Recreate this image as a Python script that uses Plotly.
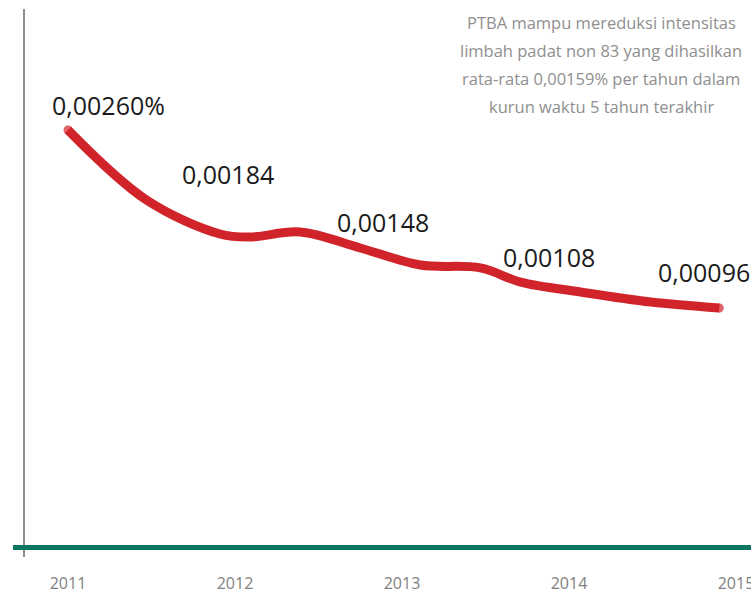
import plotly.graph_objects as go

# Data
years = [2011, 2012, 2013, 2014, 2015]
values = [0.00260, 0.00184, 0.00148, 0.00108, 0.00096]
label_texts = ["0,00260%", "0,00184", "0,00148", "0,00108", "0,00096"]
tick_labels = ["2011", "2012", "2013", "2014", "2015"]

# Smooth decorative curve
curve_x = [2011.0, 2011.47, 2011.91, 2012.09, 2012.39, 2012.75,
           2013.11, 2013.47, 2013.71, 2014.07, 2014.49, 2014.90]
curve_y = [0.002600, 0.001955, 0.001642, 0.001614, 0.001660, 0.001513,
           0.001356, 0.001329, 0.001199, 0.001107, 0.001015, 0.000960]

note_lines = [
    "PTBA mampu mereduksi intensitas",
    "limbah padat non 83 yang dihasilkan",
    "rata-rata 0,00159% per tahun dalam",
    "kurun waktu 5 tahun terakhir",
]

# Label offsets (pixels) relative to each data value
label_dx = [41, -7, -19, -20, -32]
label_dy = [25, 38, 30, 38, 36]

PLOT_H = 545
PLOT_W = 738

fig = go.Figure()
# round end caps: circles only at the two ends of the curve
cap_sizes = [9] + [0] * (len(curve_x) - 2) + [9]
fig.add_trace(go.Scatter(
    x=curve_x, y=curve_y, mode="lines+markers",
    line=dict(color="#d1232a", width=9, shape="spline", smoothing=1.0),
    marker=dict(color="#d1232a", size=cap_sizes, line=dict(width=0)),
    hoverinfo="skip", showlegend=False,
))

annotations = []
for yr, v, t, dx, dy in zip(years, values, label_texts, label_dx, label_dy):
    annotations.append(dict(
        x=yr, y=v, xref="x", yref="y", text=t, showarrow=False,
        xshift=dx, yshift=dy, xanchor="center", yanchor="middle",
        font=dict(family="Open Sans", size=25, color="#1a1a1a"),
    ))

for i, line in enumerate(note_lines):
    annotations.append(dict(
        x=(601 - 13) / PLOT_W, y=1 - (22 + 28 * i) / PLOT_H, xref="paper", yref="paper",
        text=line, showarrow=False, xanchor="center", yanchor="middle",
        font=dict(family="Open Sans", size=16.5, color="#8f8f8f"),
    ))

fig.update_layout(
    width=751, height=595,
    margin=dict(l=13, r=0, t=0, b=595 - PLOT_H),
    paper_bgcolor="white", plot_bgcolor="white",
    annotations=annotations,
    shapes=[dict(
        type="line", xref="paper", yref="paper",
        x0=(24 - 13) / PLOT_W, x1=(24 - 13) / PLOT_W,
        y0=1 - 557 / PLOT_H, y1=1 - 9 / PLOT_H,
        line=dict(color="#8c8c8c", width=2),
        layer="below",
    )],
    xaxis=dict(
        range=[2010.6707, 2015.0898],
        tickvals=years, ticktext=tick_labels,
        showgrid=False, zeroline=False,
        showline=True, linecolor="#0b7762", linewidth=5,
        ticks="", ticklabelstandoff=20, ticklabeloverflow="allow",
        automargin=False,
        tickfont=dict(family="Open Sans", size=16, color="#808080"),
        fixedrange=True,
    ),
    yaxis=dict(
        range=[-0.001224, 0.003798],
        visible=False, showgrid=False, zeroline=False,
        automargin=False,
        fixedrange=True,
    ),
    showlegend=False,
)

fig.write_html(
    "out.html",
    config={"displayModeBar": False},
    post_script="document.body.style.margin='0';document.body.style.overflow='hidden';",
)
